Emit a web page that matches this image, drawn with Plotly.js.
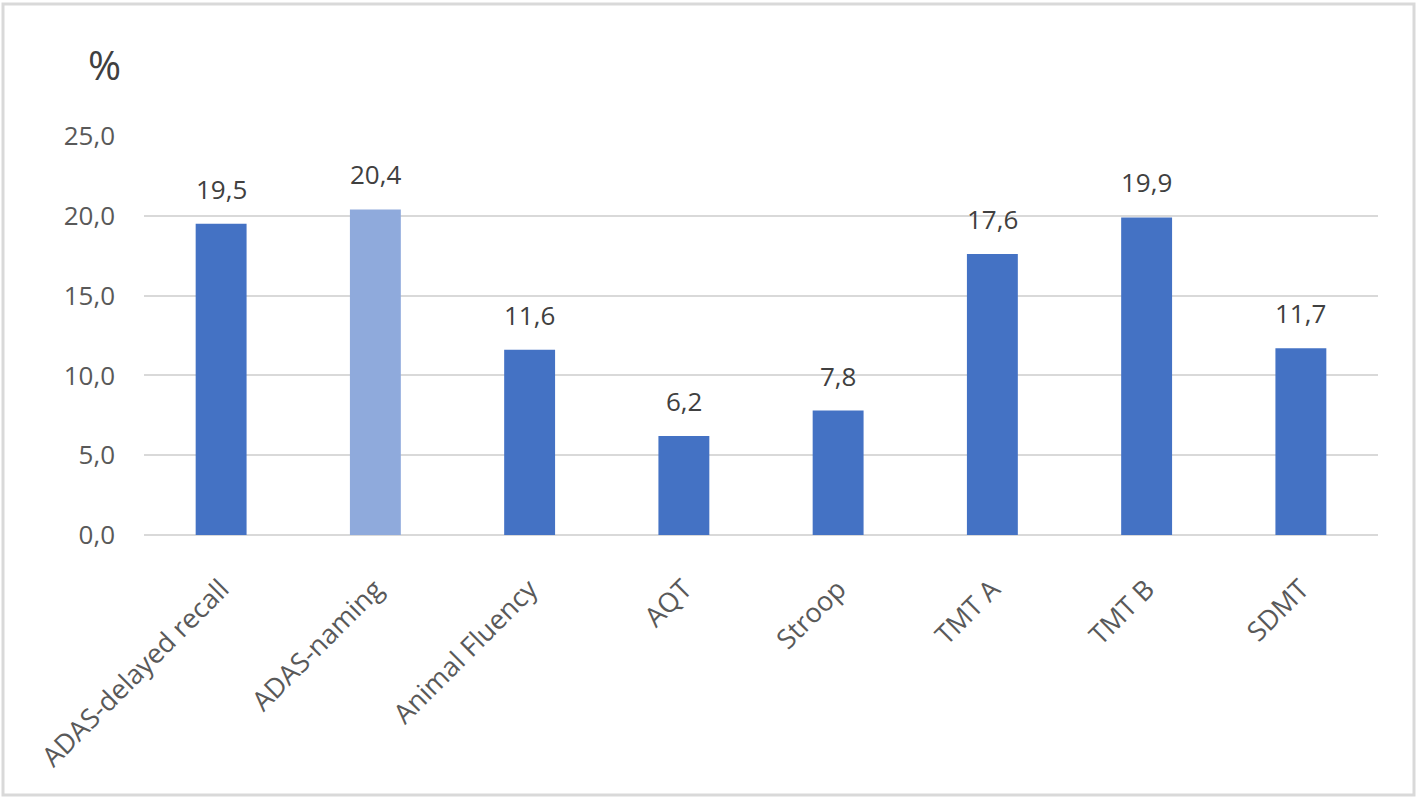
<!DOCTYPE html>
<html><head><meta charset="utf-8">
<script src="https://cdn.plot.ly/plotly-3.0.1.min.js"></script>
<style>html,body{margin:0;padding:0;background:#fff;}#c{width:1418px;height:799px;}</style>
</head><body><div id="c"></div>
<script>
const categories = ["ADAS-delayed recall", "ADAS-naming", "Animal Fluency", "AQT", "Stroop", "TMT A", "TMT B", "SDMT"];
const values = [19.5, 20.4, 11.6, 6.2, 7.8, 17.6, 19.9, 11.7];
const barColors = ["#4472C4", "#8FAADC", "#4472C4", "#4472C4", "#4472C4", "#4472C4", "#4472C4", "#4472C4"];
const yTickVals = [0, 5, 10, 15, 20, 25];
const yTickText = ["0,0", "5,0", "10,0", "15,0", "20,0", "25,0"];
const labels = values.map(v => v.toFixed(1).replace('.', ','));

const font = "'Open Sans', 'Noto Sans', sans-serif";
const L = 144, R = 40, T = 136, B = 264, W = 1418, H = 799;
const pw = W - L - R, ph = H - T - B;
const px = x => (x - L) / pw;
const py = y => (H - B - y) / ph;

const valueLabels = categories.map((c, i) => ({
  x: c, y: values[i], xref: 'x', yref: 'y',
  text: labels[i], showarrow: false,
  xanchor: 'center', yanchor: 'bottom', yshift: 15,
  font: {family: font, size: 26, color: '#404040'}
}));

Plotly.newPlot('c', [{
  type: 'bar',
  x: categories,
  y: values,
  marker: {color: barColors},
  hoverinfo: 'none'
}], {
  width: W, height: H,
  margin: {l: L, r: R, t: T, b: B},
  paper_bgcolor: '#ffffff', plot_bgcolor: '#ffffff',
  bargap: 0.67,
  showlegend: false,
  font: {family: font, color: '#595959'},
  xaxis: {
    tickangle: -45,
    tickfont: {family: font, size: 27, color: '#595959'},
    showgrid: false, zeroline: false, showline: false, ticks: '',
    ticklabelstandoff: 32
  },
  yaxis: {
    range: [0, 25],
    tickvals: yTickVals, ticktext: yTickText,
    tickfont: {family: font, size: 26, color: '#595959'},
    showgrid: true, gridcolor: '#d9d9d9', gridwidth: 2,
    zeroline: true, zerolinecolor: '#d9d9d9', zerolinewidth: 2,
    showline: false, ticks: '', ticklabelstandoff: 28
  },
  annotations: valueLabels.concat([{
    text: '%', xref: 'paper', yref: 'paper',
    x: px(104), y: py(65), xanchor: 'center', yanchor: 'middle',
    showarrow: false, font: {family: font, size: 40, color: '#404040'}
  }]),
  shapes: [{
    type: 'rect', xref: 'paper', yref: 'paper',
    x0: px(3), x1: px(1414), y0: py(795), y1: py(4),
    line: {color: '#d9d9d9', width: 3}, fillcolor: 'rgba(0,0,0,0)', layer: 'below'
  }]
}, {staticPlot: true});
</script>
</body></html>
